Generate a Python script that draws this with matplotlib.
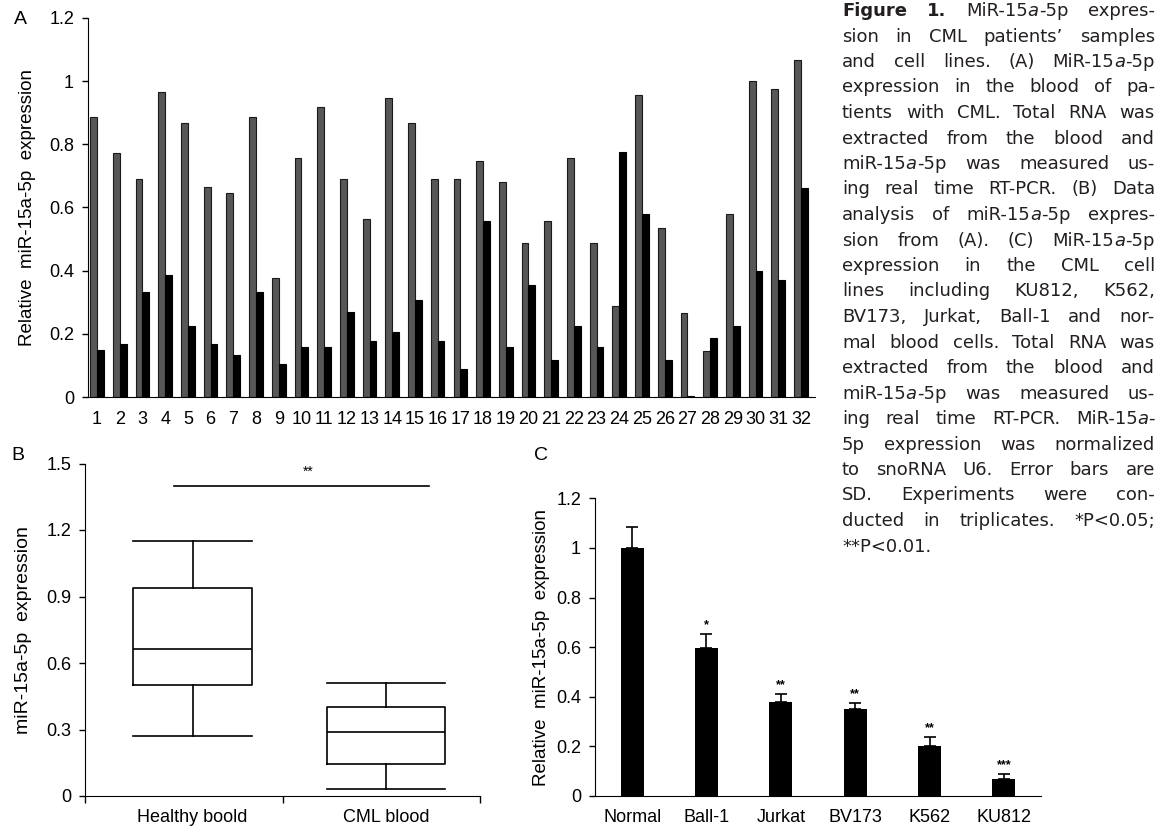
import matplotlib
matplotlib.use("Agg")
import matplotlib.pyplot as plt
import numpy as np

plt.rcParams['font.family'] = ['Liberation Sans', 'DejaVu Sans']

# ---------------- data ----------------
# Panel A
samples = [str(i) for i in range(1, 33)]
healthy_vals = [0.885, 0.774, 0.689, 0.967, 0.866, 0.664, 0.645, 0.885, 0.377, 0.756,
                0.919, 0.689, 0.564, 0.947, 0.866, 0.689, 0.689, 0.746, 0.681, 0.488,
                0.556, 0.756, 0.488, 0.289, 0.956, 0.535, 0.267, 0.147, 0.580, 1.000,
                0.976, 1.066]
cml_vals = [0.149, 0.168, 0.334, 0.387, 0.225, 0.168, 0.134, 0.334, 0.104, 0.157,
            0.157, 0.269, 0.178, 0.206, 0.308, 0.178, 0.088, 0.556, 0.157, 0.356,
            0.116, 0.225, 0.157, 0.776, 0.580, 0.116, 0.004, 0.187, 0.225, 0.398,
            0.369, 0.663]
a_yticks = [0, 0.2, 0.4, 0.6, 0.8, 1.0, 1.2]
a_yticklabels = ['0', '0.2', '0.4', '0.6', '0.8', '1', '1.2']

# Panel B
box_groups = ['Healthy boold', 'CML blood']
box_whislo = [0.27, 0.03]
box_q1 = [0.50, 0.145]
box_med = [0.665, 0.29]
box_q3 = [0.94, 0.40]
box_whishi = [1.15, 0.51]
b_yticks = [0, 0.3, 0.6, 0.9, 1.2, 1.5]
b_yticklabels = ['0', '0.3', '0.6', '0.9', '1.2', '1.5']

# Panel C
cell_lines = ['Normal', 'Ball-1', 'Jurkat', 'BV173', 'K562', 'KU812']
cell_vals = [1.0, 0.597, 0.38, 0.35, 0.203, 0.068]
cell_err = [0.085, 0.056, 0.031, 0.025, 0.036, 0.019]
cell_sig = ['', '*', '**', '**', '**', '***']
c_yticks = [0, 0.2, 0.4, 0.6, 0.8, 1.0, 1.2]
c_yticklabels = ['0', '0.2', '0.4', '0.6', '0.8', '1', '1.2']

caption_lines = [
    "Figure 1. MiR-15a-5p expres-",
    "sion in CML patients\u2019 samples",
    "and cell lines. (A) MiR-15a-5p",
    "expression in the blood of pa-",
    "tients with CML. Total RNA was",
    "extracted from the blood and",
    "miR-15a-5p was measured us-",
    "ing real time RT-PCR. (B) Data",
    "analysis of miR-15a-5p expres-",
    "sion from (A). (C) MiR-15a-5p",
    "expression in the CML cell",
    "lines including KU812, K562,",
    "BV173, Jurkat, Ball-1 and nor-",
    "mal blood cells. Total RNA was",
    "extracted from the blood and",
    "miR-15a-5p was measured us-",
    "ing real time RT-PCR. MiR-15a-",
    "5p expression was normalized",
    "to snoRNA U6. Error bars are",
    "SD. Experiments were con-",
    "ducted in triplicates. *P<0.05;",
    "**P<0.01.",
]

# ---------------- figure ----------------
W, H = 1156, 832
fig = plt.figure(figsize=(W / 100, H / 100), dpi=100)


def box(l, t, r, b):
    return [l / W, 1 - b / H, (r - l) / W, (b - t) / H]


tick_fs = 13

# ---- Panel A ----
axA = fig.add_axes(box(88, 18, 815, 397))
x = np.arange(1, len(samples) + 1)
bw = 0.3
axA.bar(x - bw / 2, healthy_vals, width=bw, color='#575757', edgecolor='#1a1a1a', linewidth=0.8)
axA.bar(x + bw / 2, cml_vals, width=bw, color='#000000', edgecolor='#000000', linewidth=0.8)
axA.set_xlim(0.6, 32.62)
axA.set_ylim(0, 1.2)
axA.set_yticks(a_yticks)
axA.set_yticklabels(a_yticklabels, fontsize=tick_fs)
axA.set_xticks(x)
axA.set_xticklabels(samples, fontsize=tick_fs)
axA.tick_params(axis='x', length=0, pad=10)
axA.tick_params(axis='y', length=4, width=1, pad=6)
for s in ['top', 'right']:
    axA.spines[s].set_visible(False)
axA.set_ylabel('Relative  miR-15a-5p  expression', fontsize=13.5, labelpad=9)
fig.text(20 / W, 1 - 19 / H, 'A', fontsize=14, ha='center', va='center')

# ---- Panel B ----
axB = fig.add_axes(box(85, 463.5, 480, 796))
stats = []
for i in range(len(box_groups)):
    stats.append(dict(med=box_med[i], q1=box_q1[i], q3=box_q3[i],
                      whislo=box_whislo[i], whishi=box_whishi[i], fliers=[]))
pos = [0.545, 1.525]
axB.bxp(stats, positions=pos, widths=0.6, capwidths=0.6, showfliers=False,
        boxprops=dict(color='black', linewidth=1.2),
        medianprops=dict(color='black', linewidth=1.2),
        whiskerprops=dict(color='black', linewidth=1.2),
        capprops=dict(color='black', linewidth=1.2), manage_ticks=False)
axB.set_xlim(0, 2)
axB.set_ylim(0, 1.5)
axB.set_yticks(b_yticks)
axB.set_yticklabels(b_yticklabels, fontsize=tick_fs)
axB.set_xticks([0, 1, 2])
axB.set_xticklabels(['', '', ''])
axB.set_xticks(pos, minor=True)
axB.set_xticklabels(box_groups, minor=True, fontsize=tick_fs)
axB.tick_params(axis='x', which='major', length=5, width=1)
axB.tick_params(axis='x', which='minor', length=0, pad=9)
axB.tick_params(axis='y', length=4, width=1, pad=6)
for s in ['top', 'right']:
    axB.spines[s].set_visible(False)
axB.plot([0.45, 1.74], [1.40, 1.40], color='black', linewidth=1.2)
axB.text(1.13, 1.43, '**', ha='center', va='bottom', fontsize=10)
axB.set_ylabel('miR-15a-5p  expression', fontsize=14, labelpad=10)
fig.text(18 / W, 1 - 455 / H, 'B', fontsize=14, ha='center', va='center')

# ---- Panel C ----
axC = fig.add_axes(box(595, 498.4, 1041, 796))
xc = np.arange(len(cell_lines)) + 0.5
axC.bar(xc, cell_vals, width=0.31, color='black', yerr=[np.zeros(len(cell_err)), cell_err],
        error_kw=dict(ecolor='black', elinewidth=1.2, capsize=4, capthick=1.2))
for xi, v, e, s in zip(xc, cell_vals, cell_err, cell_sig):
    if s:
        axC.annotate(s, (xi, v + e), xytext=(0, 2), textcoords='offset points',
                     ha='center', va='bottom', fontsize=9, fontweight='bold')
axC.set_xlim(0, 6)
axC.set_ylim(0, 1.2)
axC.set_yticks(c_yticks)
axC.set_yticklabels(c_yticklabels, fontsize=tick_fs)
axC.set_xticks(xc)
axC.set_xticklabels(cell_lines, fontsize=tick_fs)
axC.tick_params(axis='x', length=0, pad=9)
axC.tick_params(axis='y', length=4, width=1, pad=6)
for s in ['top', 'right']:
    axC.spines[s].set_visible(False)
axC.set_ylabel('Relative  miR-15a-5p  expression', fontsize=13.5, labelpad=4)
fig.text(541 / W, 1 - 455 / H, 'C', fontsize=14, ha='center', va='center')

# ---- Caption (justified) ----
cap_family = ['DejaVu Sans']
cap_color = '#231f20'
renderer = fig.canvas.get_renderer()
x_left, x_right = 842, 1155
line_y0, line_dy = 11, 25.5


def measure(txt, weight, style, fs):
    t = fig.text(0, 0, txt, fontsize=fs, family=cap_family, fontweight=weight, fontstyle=style)
    w = t.get_window_extent(renderer).width
    t.remove()
    return w


def segments(word, weight):
    # italic 'a' in "15a"
    if '15a' in word:
        k = word.index('15a') + 2
        return [(word[:k], weight, 'normal'), ('a', weight, 'italic'), (word[k + 1:], weight, 'normal')]
    return [(word, weight, 'normal')]


def line_words(i, line):
    words = line.split(' ')
    out = []
    for j, w in enumerate(words):
        wt = 'bold' if (i == 0 and j < 2) else 'normal'
        out.append([s for s in segments(w, wt) if s[0]])
    return out


def word_width(segs, fs):
    return sum(measure(t, wt, st, fs) for t, wt, st in segs)


# largest size (up to target) at which every line fits the column
cap_fs = 13
while True:
    sw = measure('a a', 'normal', 'normal', cap_fs) - 2 * measure('a', 'normal', 'normal', cap_fs)
    widest = 0
    for i, line in enumerate(caption_lines):
        ws = line_words(i, line)
        nat = sum(word_width(s, cap_fs) for s in ws) + sw * 0.75 * (len(ws) - 1)
        widest = max(widest, nat)
    if widest <= (x_right - x_left) or cap_fs < 9:
        break
    cap_fs -= 0.25

space_w = measure('a a', 'normal', 'normal', cap_fs) - 2 * measure('a', 'normal', 'normal', cap_fs)
for i, line in enumerate(caption_lines):
    yc = line_y0 + i * line_dy
    ws = line_words(i, line)
    widths = [word_width(s, cap_fs) for s in ws]
    last = (i == len(caption_lines) - 1)
    if last or len(ws) == 1:
        gap = space_w
    else:
        gap = (x_right - x_left - sum(widths)) / (len(ws) - 1)
    xp = x_left
    for segs, wd in zip(ws, widths):
        xs = xp
        for t, wt, st in segs:
            fig.text(xs / W, 1 - yc / H, t, fontsize=cap_fs, family=cap_family,
                     fontweight=wt, fontstyle=st, color=cap_color, ha='left', va='center')
            xs += measure(t, wt, st, cap_fs)
        xp += wd + gap

fig.savefig('out.png', dpi=100)
